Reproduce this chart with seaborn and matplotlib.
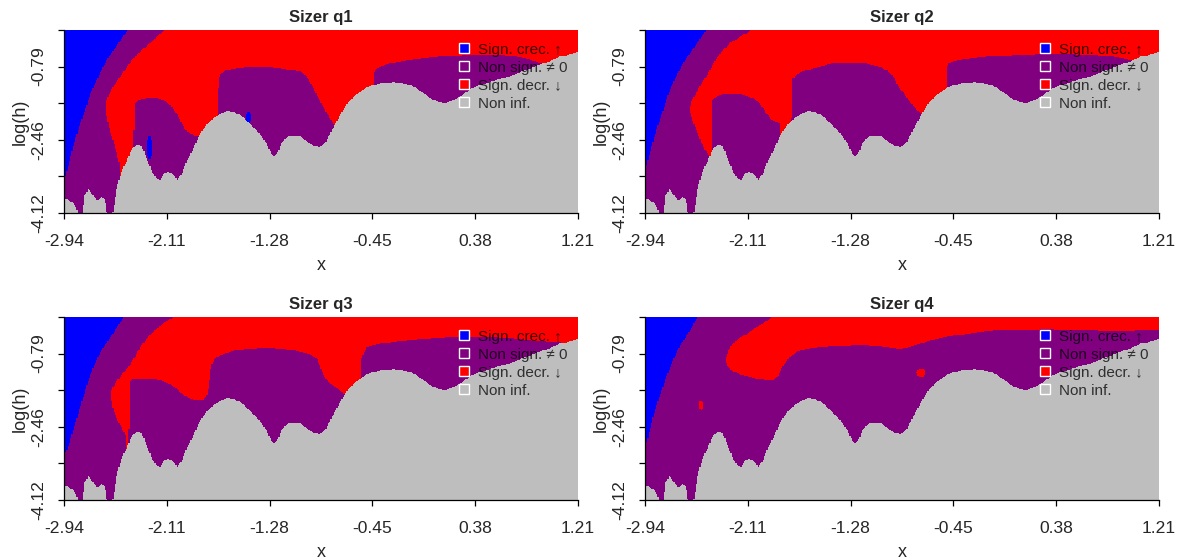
import numpy as np
import matplotlib
matplotlib.use("Agg")
import matplotlib.pyplot as plt
from matplotlib.colors import ListedColormap
from matplotlib.lines import Line2D
import seaborn as sns

# ---------------------------------------------------------------------------
# Axis ranges and ticks
# ---------------------------------------------------------------------------
x_range = (-2.94, 1.21)
h_range = (-4.12, 0.04)
x_ticks = [-2.94, -2.11, -1.28, -0.45, 0.38, 1.21]
h_ticks = [-4.12, -3.29, -2.46, -1.62, -0.79, 0.04]
h_tick_labels = ["-4.12", "", "-2.46", "", "-0.79", ""]

# SiZer classes (code = position in these lists)
categories = ["Sign. crec. \u2191", "Non sign. \u2260 0", "Sign. decr. \u2193", "Non inf."]
class_colors = ["#0000FF", "#800080", "#FF0000", "#BEBEBE"]
BLUE, PURPLE, RED, GRAY = 0, 1, 2, 3

titles = ["Sizer q1", "Sizer q2", "Sizer q3", "Sizer q4"]

# ---------------------------------------------------------------------------
# Region boundaries as (x, log h) pairs
# ---------------------------------------------------------------------------
# below this edge there are too few data points (shared by all quantiles)
gray_edge = [
    (-2.940, -3.779), (-2.905, -3.817), (-2.865, -3.893), (-2.838, -4.006),
    (-2.827, -4.200), (-2.795, -4.200), (-2.778, -3.741), (-2.743, -3.575),
    (-2.708, -3.704), (-2.671, -3.840), (-2.636, -3.764), (-2.609, -3.817),
    (-2.590, -4.200), (-2.552, -4.200), (-2.536, -3.968), (-2.514, -3.552),
    (-2.474, -3.174), (-2.434, -2.947), (-2.393, -2.660), (-2.353, -2.569),
    (-2.312, -2.607), (-2.285, -2.796), (-2.258, -2.985), (-2.223, -3.212),
    (-2.191, -3.325), (-2.164, -3.363), (-2.132, -3.227), (-2.097, -3.174),
    (-2.056, -3.250), (-2.024, -3.363), (-1.989, -3.227), (-1.949, -2.947),
    (-1.895, -2.645), (-1.841, -2.320), (-1.787, -2.115), (-1.733, -1.964),
    (-1.679, -1.866), (-1.625, -1.798), (-1.571, -1.820), (-1.518, -1.896),
    (-1.464, -2.017), (-1.410, -2.168), (-1.356, -2.327), (-1.302, -2.546),
    (-1.270, -2.758), (-1.243, -2.834), (-1.216, -2.743), (-1.181, -2.516),
    (-1.135, -2.395), (-1.087, -2.365), (-1.033, -2.380), (-0.979, -2.493),
    (-0.925, -2.592), (-0.871, -2.622), (-0.831, -2.531), (-0.790, -2.304),
    (-0.750, -2.100), (-0.709, -1.888), (-0.655, -1.639), (-0.602, -1.472),
    (-0.548, -1.359), (-0.494, -1.261), (-0.440, -1.208), (-0.386, -1.170),
    (-0.278, -1.147), (-0.197, -1.170), (-0.144, -1.215), (-0.090, -1.291),
    (-0.036, -1.397), (0.018, -1.510), (0.072, -1.586), (0.126, -1.624),
    (0.180, -1.586), (0.234, -1.510), (0.287, -1.412), (0.341, -1.306),
    (0.422, -1.208), (0.557, -1.094), (0.691, -0.981), (0.826, -0.830),
    (0.961, -0.686), (1.069, -0.565), (1.150, -0.504), (1.211, -0.452),
]

# --- q1 ---
q1_blue_edge = [
    (-2.937, -3.401), (-2.919, -3.212), (-2.892, -2.910), (-2.859, -2.531),
    (-2.816, -2.153), (-2.770, -1.775), (-2.724, -1.397), (-2.663, -1.019),
    (-2.595, -0.641), (-2.501, -0.262), (-2.420, 0.055), (-2.400, 1.000),
]
q1_red_top = [
    (-2.622, -4.500), (-2.603, -1.775), (-2.595, -1.548), (-2.555, -1.306),
    (-2.501, -1.094), (-2.447, -0.868), (-2.393, -0.641), (-2.312, -0.414),
    (-2.245, -0.262), (-2.191, -0.111), (-2.118, 0.055), (-2.100, 1.000),
]
q1_red_bottom = [
    (-2.603, -1.775), (-2.590, -2.002), (-2.568, -2.267), (-2.541, -2.494),
    (-2.514, -2.758), (-2.493, -2.985), (-2.479, -4.300), (-2.385, -4.300),
    (-2.372, -1.624), (-2.326, -1.533), (-2.272, -1.503), (-2.191, -1.503),
    (-2.137, -1.548), (-2.083, -1.662), (-2.030, -1.851), (-1.989, -2.078),
    (-1.949, -2.267), (-1.895, -2.342), (-1.854, -2.380), (-1.833, -4.300),
    (-1.712, -4.300), (-1.701, -1.851), (-1.693, -1.094), (-1.679, -0.958),
    (-1.625, -0.868), (-1.518, -0.815), (-1.410, -0.792), (-1.302, -0.792),
    (-1.194, -0.830), (-1.113, -0.868), (-1.033, -0.905), (-0.979, -1.020),
    (-0.925, -1.283), (-0.871, -1.586), (-0.817, -1.851), (-0.777, -2.040),
    (-0.750, -2.168), (-0.742, -4.300), (-0.453, -4.300), (-0.443, -0.981),
    (-0.427, -0.868), (-0.386, -0.792), (-0.305, -0.716), (-0.197, -0.656),
    (-0.063, -0.610), (0.099, -0.565), (0.287, -0.527), (0.476, -0.512),
    (0.611, -0.527), (0.745, -0.580), (0.853, -0.656), (0.934, -0.731),
    (0.956, -4.300), (1.211, -4.300),
]
# isolated cells: (x, log h, width, height, class)
q1_spots = [(-2.250, -2.645, 0.041, 0.53, BLUE), (-1.450, -1.950, 0.035, 0.27, BLUE)]

# --- q2 ---
q2_blue_edge = [
    (-2.935, -3.136), (-2.908, -2.834), (-2.878, -2.531), (-2.838, -2.153),
    (-2.792, -1.775), (-2.751, -1.397), (-2.689, -1.019), (-2.617, -0.641),
    (-2.522, -0.262), (-2.442, 0.055), (-2.420, 1.000),
]
q2_red_top = [
    (-2.603, -4.500), (-2.582, -1.760), (-2.563, -1.548), (-2.536, -1.435),
    (-2.482, -1.170), (-2.428, -0.943), (-2.388, -0.716), (-2.334, -0.489),
    (-2.253, -0.262), (-2.172, -0.111), (-2.073, 0.055), (-2.050, 1.000),
]
q2_red_bottom = [
    (-2.582, -1.760), (-2.563, -1.964), (-2.536, -2.153), (-2.509, -2.342),
    (-2.482, -2.531), (-2.447, -2.720), (-2.420, -2.819), (-2.412, -4.300),
    (-2.404, -4.300), (-2.396, -1.548), (-2.361, -1.473), (-2.307, -1.420),
    (-2.226, -1.412), (-2.145, -1.435), (-2.064, -1.510), (-2.011, -1.624),
    (-1.970, -1.813), (-1.930, -1.964), (-1.889, -2.040), (-1.849, -2.093),
    (-1.817, -4.300), (-1.763, -4.300), (-1.752, -1.094), (-1.728, -1.004),
    (-1.687, -0.928), (-1.606, -0.852), (-1.526, -0.792), (-1.418, -0.716),
    (-1.310, -0.701), (-1.176, -0.716), (-1.041, -0.800), (-0.987, -0.883),
    (-0.933, -1.019), (-0.893, -1.246), (-0.852, -1.397), (-0.812, -1.548),
    (-0.771, -1.699), (-0.731, -1.813), (-0.696, -1.888), (-0.688, -4.300),
    (-0.510, -4.300), (-0.502, -0.830), (-0.488, -0.716), (-0.448, -0.663),
    (-0.367, -0.625), (-0.232, -0.580), (-0.098, -0.550), (0.037, -0.527),
    (0.172, -0.512), (0.306, -0.504), (0.441, -0.504), (0.576, -0.512),
    (0.710, -0.527), (0.845, -0.565), (0.953, -0.625), (1.034, -0.686),
    (1.055, -4.300), (1.211, -4.300),
]
q2_spots = []

# --- q3 ---
q3_blue_edge = [
    (-2.932, -3.098), (-2.905, -2.909), (-2.865, -2.531), (-2.824, -2.152),
    (-2.784, -1.774), (-2.743, -1.396), (-2.690, -1.018), (-2.622, -0.640),
    (-2.528, -0.262), (-2.455, 0.041), (-2.430, 1.000),
]
q3_red_top = [
    (-2.579, -4.500), (-2.560, -1.774), (-2.555, -1.623), (-2.528, -1.472),
    (-2.487, -1.321), (-2.420, -1.094), (-2.366, -0.867), (-2.326, -0.640),
    (-2.272, -0.451), (-2.205, -0.262), (-2.124, -0.073), (-2.056, 0.041),
    (-2.040, 1.000),
]
q3_red_bottom = [
    (-2.560, -1.789), (-2.541, -2.077), (-2.514, -2.266), (-2.474, -2.470),
    (-2.439, -2.682), (-2.425, -4.300), (-2.420, -4.300), (-2.412, -1.434),
    (-2.380, -1.381), (-2.326, -1.366), (-2.245, -1.373), (-2.164, -1.396),
    (-2.083, -1.487), (-2.030, -1.585), (-1.976, -1.736), (-1.922, -1.812),
    (-1.868, -1.850), (-1.814, -1.835), (-1.782, -1.736), (-1.765, -1.396),
    (-1.752, -1.056), (-1.720, -0.905), (-1.679, -0.829), (-1.571, -0.731),
    (-1.464, -0.678), (-1.302, -0.663), (-1.167, -0.678), (-1.033, -0.753),
    (-0.952, -0.806), (-0.898, -0.905), (-0.871, -1.094), (-0.844, -1.283),
    (-0.804, -1.434), (-0.750, -1.547), (-0.696, -1.661), (-0.669, -1.736),
    (-0.661, -4.300), (-0.548, -4.300), (-0.540, -1.094), (-0.534, -0.867),
    (-0.494, -0.640), (-0.386, -0.564), (-0.251, -0.511), (-0.117, -0.474),
    (0.018, -0.451), (0.153, -0.428), (0.287, -0.413), (0.422, -0.413),
    (0.557, -0.428), (0.692, -0.451), (0.826, -0.489), (0.961, -0.511),
    (1.069, -0.511), (1.110, -4.300), (1.211, -4.300),
]
q3_spots = []

# --- q4 ---
q4_blue_edge = [
    (-2.932, -2.871), (-2.900, -2.531), (-2.867, -2.152), (-2.824, -1.774),
    (-2.778, -1.396), (-2.724, -1.018), (-2.662, -0.640), (-2.576, -0.262),
    (-2.517, 0.041), (-2.500, 1.000),
]
q4_red_top = [
    (-2.307, -4.500), (-2.288, -0.980), (-2.285, -0.867), (-2.266, -0.731),
    (-2.240, -0.602), (-2.199, -0.489), (-2.118, -0.337), (-2.037, -0.186),
    (-1.970, -0.073), (-1.916, 0.041), (-1.900, 1.000),
]
q4_red_bottom = [
    (-2.288, -0.980), (-2.280, -1.056), (-2.240, -1.169), (-2.172, -1.268),
    (-2.091, -1.320), (-2.011, -1.373), (-1.943, -1.411), (-1.903, -1.396),
    (-1.862, -1.283), (-1.822, -1.056), (-1.782, -0.905), (-1.714, -0.753),
    (-1.633, -0.678), (-1.526, -0.640), (-1.364, -0.617), (-1.176, -0.602),
    (-1.041, -0.625), (-0.960, -0.655), (-0.879, -0.678), (-0.798, -0.640),
    (-0.717, -0.564), (-0.637, -0.489), (-0.502, -0.413), (-0.367, -0.353),
    (-0.232, -0.300), (-0.098, -0.262), (0.037, -0.262), (0.306, -0.247),
    (0.576, -0.262), (0.845, -0.277), (1.217, -0.262),
]
q4_spots = [(-0.711, -1.226, 0.070, 0.19, RED), (-2.487, -1.970, 0.032, 0.23, RED)]

panels = [
    (q1_blue_edge, q1_red_top, q1_red_bottom, q1_spots),
    (q2_blue_edge, q2_red_top, q2_red_bottom, q2_spots),
    (q3_blue_edge, q3_red_top, q3_red_bottom, q3_spots),
    (q4_blue_edge, q4_red_top, q4_red_bottom, q4_spots),
]

# grid of the SiZer map
NX, NH = 415, 208
xs = x_range[0] + (np.arange(NX) + 0.5) * (x_range[1] - x_range[0]) / NX
hs = h_range[1] - (np.arange(NH) + 0.5) * (h_range[1] - h_range[0]) / NH
XX, HH = np.meshgrid(xs, hs)


def edge(points):
    a = np.asarray(points, dtype=float)
    return np.interp(xs, a[:, 0], a[:, 1])[None, :]


def sizer_map(blue_edge, red_top, red_bottom, spots):
    code = np.full(XX.shape, PURPLE, dtype=int)
    code[(HH >= edge(red_bottom)) & (HH < edge(red_top))] = RED
    code[HH >= edge(blue_edge)] = BLUE
    for cx, ch, w, hh, cat in spots:
        code[((XX - cx) / (w / 2)) ** 2 + ((HH - ch) / (hh / 2)) ** 2 <= 1] = cat
    code[HH < edge(gray_edge)] = GRAY
    return code


# ---------------------------------------------------------------------------
# Figure
# ---------------------------------------------------------------------------
sns.set_style("ticks")
plt.rcParams["font.family"] = ["Liberation Sans", "DejaVu Sans"]

W, H = 1182, 560
fig = plt.figure(figsize=(W / 100, H / 100), dpi=100)
cmap = ListedColormap(class_colors)

lefts = [64, 645, 64, 645]
tops = [30, 30, 317, 317]
pw, ph = 514, 183

x_pos = [(v - x_range[0]) / (x_range[1] - x_range[0]) * NX for v in x_ticks]
h_pos = [(h_range[1] - v) / (h_range[1] - h_range[0]) * NH for v in h_ticks]

handles = [
    Line2D([], [], marker="s", linestyle="none", markersize=7.5,
           markerfacecolor=c, markeredgecolor="white", markeredgewidth=1.0)
    for c in class_colors
]

for k, (title, spec) in enumerate(zip(titles, panels)):
    ax = fig.add_axes([lefts[k] / W, 1 - (tops[k] + ph) / H, pw / W, ph / H])
    sns.heatmap(sizer_map(*spec), ax=ax, cmap=cmap, vmin=-0.5, vmax=3.5,
                cbar=False, xticklabels=False, yticklabels=False, rasterized=True)
    ax.set_xlim(0, NX)
    ax.set_ylim(NH, 0)
    for side in ("left", "bottom"):
        ax.spines[side].set_visible(True)
        ax.spines[side].set_linewidth(0.9)
        ax.spines[side].set_color("black")
    for side in ("top", "right"):
        ax.spines[side].set_visible(False)

    ax.set_xticks(x_pos)
    ax.set_xticklabels([f"{v:.2f}" for v in x_ticks], fontsize=12.6)
    ax.set_yticks(h_pos)
    ax.set_yticklabels(h_tick_labels, fontsize=12.6, rotation=90, va="center")
    ax.tick_params(axis="both", direction="out", length=4.5, width=0.9,
                   color="black", bottom=True, left=True)
    ax.tick_params(axis="x", pad=10.5)
    ax.tick_params(axis="y", pad=8)

    ax.set_xlabel("x", fontsize=13, labelpad=6)
    ax.set_ylabel("log(h)", fontsize=13, labelpad=2)
    ax.set_title(title, fontsize=12, fontweight="bold", pad=6)

    leg = ax.legend(handles, categories, loc="upper left",
                    bbox_to_anchor=(0.764, 0.93), frameon=False, fontsize=11,
                    handlelength=1.0, handletextpad=0.4, labelspacing=0.26,
                    borderpad=0, borderaxespad=0)
    for t in leg.get_texts():
        t.set_color((0, 0, 0, 0.75))

fig.savefig("out.png", dpi=100)
